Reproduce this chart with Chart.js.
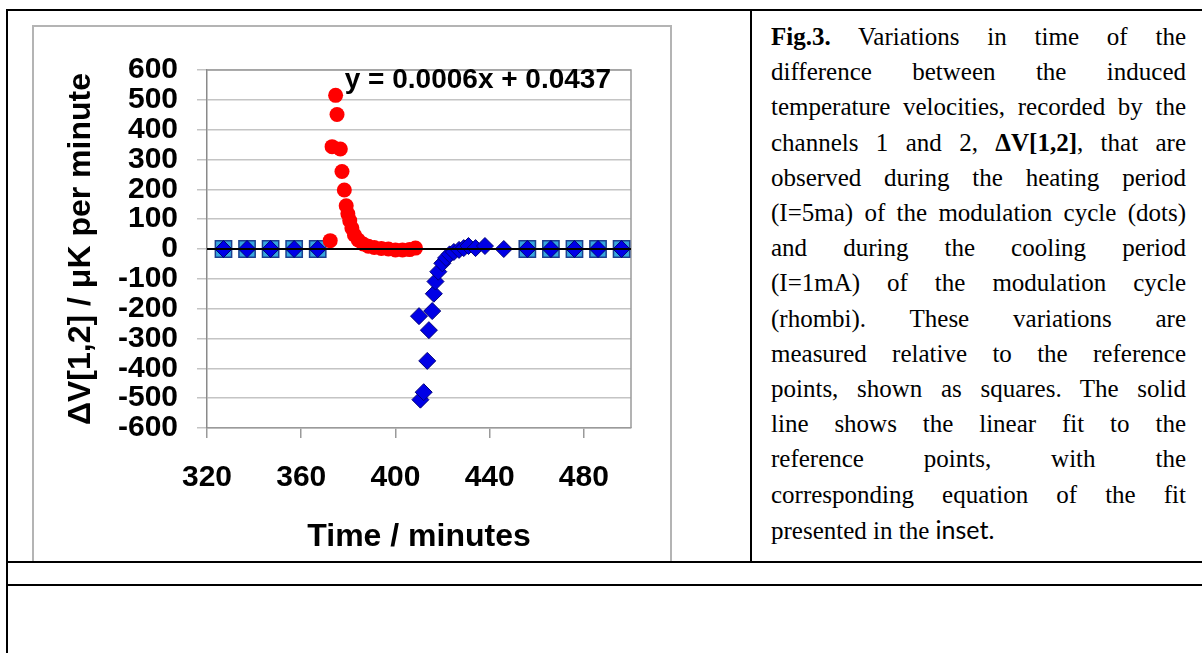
<!DOCTYPE html>
<html>
<head>
<meta charset="utf-8">
<title>Fig.3</title>
<script src="https://cdn.jsdelivr.net/npm/chart.js@4.4.1/dist/chart.umd.min.js"></script>
<style>
  html, body { margin: 0; padding: 0; background: #fff; }
  body { position: relative; width: 1202px; height: 653px; overflow: hidden; }
  .rule { position: absolute; background: #000; }
  #chart-frame {
    position: absolute; left: 32px; top: 25px; width: 640px; height: 537px;
    box-sizing: border-box; border: 2px solid #b4b4b4; border-bottom: none;
  }
  #chart-fig3 { position: absolute; left: 33px; top: 26px; }
  #caption {
    position: absolute; left: 771px; top: 19px; width: 415px;
    font-family: "Liberation Serif", "Times New Roman", serif;
    font-size: 25px; line-height: 35.2px; color: #000;
  }
  #caption .ln { text-align: justify; text-align-last: justify; white-space: nowrap; }
  #caption .ln.last { text-align: left; text-align-last: left; }
  #caption .sans { font-family: Lato, "Open Sans", sans-serif; font-size: 25px; }
</style>
</head>
<body>
<div class="rule" style="left:6px;top:9px;width:1196px;height:2px"></div>
<div class="rule" style="left:6px;top:9px;width:2px;height:644px"></div>
<div class="rule" style="left:750px;top:9px;width:2px;height:553px"></div>
<div id="chart-frame"></div>
<canvas id="chart-fig3" width="638" height="536"></canvas>
<div class="rule" style="left:6px;top:561px;width:1196px;height:2px"></div>
<div class="rule" style="left:6px;top:584px;width:1196px;height:2px"></div>

<div id="caption">
  <div class="ln"><b>Fig.3.</b> Variations in time of the</div>
  <div class="ln">difference between the induced</div>
  <div class="ln">temperature velocities, recorded by the</div>
  <div class="ln">channels 1 and 2, <b>ΔV[1,2]</b>, that are</div>
  <div class="ln">observed during the heating period</div>
  <div class="ln">(I=5ma) of the modulation cycle (dots)</div>
  <div class="ln">and during the cooling period</div>
  <div class="ln">(I=1mA) of the modulation cycle</div>
  <div class="ln">(rhombi). These variations are</div>
  <div class="ln">measured relative to the reference</div>
  <div class="ln">points, shown as squares. The solid</div>
  <div class="ln">line shows the linear fit to the</div>
  <div class="ln">reference points, with the</div>
  <div class="ln">corresponding equation of the fit</div>
  <div class="ln last">presented in the <span class="sans">inset.</span></div>
</div>

<script>
// heating period (dots), minutes / uK per minute
const heatingTimes = [372.3, 373.1, 374.6, 375.2, 376.6, 377.3, 378.3, 379.1, 379.8, 380.6, 381.5,
  382.6, 384.2, 386.3, 388.5, 391, 394, 397, 400, 403, 406, 408.5];
const heatingValues = [28, 343, 515, 451, 335, 260, 198, 145, 118, 95, 70,
  47, 30, 17, 9, 5, 2, 0, -3, -3, -2, 3];

// cooling period (rhombi)
const coolingTimes = [410.6, 410, 412, 413.5, 414.2, 415.6, 416.3, 417, 418.2, 419.9,
  421.5, 423, 424.8, 427, 429, 431, 434, 438, 446];
const coolingValues = [-505, -225, -480, -375, -272, -208, -150, -109, -76, -48,
  -30, -18, -10, -3, 3, 10, 3, 10, 0];

// reference points (squares)
const referenceTimes = [327, 337, 347, 357, 367, 456, 466, 476, 486, 496];
const referenceValues = [0, 0, 0, 0, 0, 0, 0, 0, 0, 0];

// linear fit to the reference points
const fitSlope = 0.0006;
const fitIntercept = 0.0437;
const fitLabel = "y = 0.0006x + 0.0437";
const fitLabelAt = { x: 435, y: 566 };

const xRange = [320, 500];
const xTickValues = [320, 360, 400, 440, 480];
const yRange = [-600, 600];
const yStep = 100;

const xTitle = "Time / minutes";
const yTitle = "ΔV[1,2] / μK per minute";

function toPoints(xs, ys) {
  return xs.map((x, i) => ({ x, y: ys[i] }));
}

function fitPoints() {
  return xRange.map((x) => ({ x, y: fitSlope * x + fitIntercept }));
}

// right + top edge of the plot area (Excel style frame)
const plotFrame = {
  id: "plotFrame",
  beforeDatasetsDraw(chart) {
    const { ctx, chartArea } = chart;
    ctx.save();
    ctx.strokeStyle = "#9a9a9a";
    ctx.lineWidth = 1.5;
    ctx.beginPath();
    ctx.moveTo(chartArea.left, chartArea.top);
    ctx.lineTo(chartArea.right, chartArea.top);
    ctx.lineTo(chartArea.right, chartArea.bottom);
    ctx.stroke();
    ctx.restore();
  },
};

const fitLabelPlugin = {
  id: "fitLabel",
  afterDraw(chart) {
    const { ctx, scales } = chart;
    ctx.save();
    ctx.font = 'bold 28px "Liberation Sans", Arial, sans-serif';
    ctx.fillStyle = "#000";
    ctx.textAlign = "center";
    ctx.textBaseline = "middle";
    ctx.fillText(fitLabel, scales.x.getPixelForValue(fitLabelAt.x), scales.y.getPixelForValue(fitLabelAt.y));
    ctx.restore();
  },
};

function renderChart() {
  const canvas = document.getElementById("chart-fig3");
  if (!canvas) return;

  Chart.defaults.font.family = '"Liberation Sans", Arial, sans-serif';
  Chart.defaults.font.weight = "bold";
  Chart.defaults.color = "#000";

  new Chart(canvas, {
    type: "scatter",
    data: {
      datasets: [
        {
          label: "fit",
          data: fitPoints(),
          showLine: true,
          borderColor: "#000",
          borderWidth: 2,
          pointRadius: 0,
        },
        {
          label: "reference rhombi",
          data: toPoints(referenceTimes, referenceValues),
          pointStyle: "rectRot",
          pointRadius: 8.5,
          pointBackgroundColor: "#0000e6",
          pointBorderColor: "#00007a",
          pointBorderWidth: 1,
        },
        {
          label: "cooling",
          data: toPoints(coolingTimes, coolingValues),
          pointStyle: "rectRot",
          pointRadius: 8.5,
          pointBackgroundColor: "#0000e6",
          pointBorderColor: "#00007a",
          pointBorderWidth: 1,
        },
        {
          label: "heating",
          data: toPoints(heatingTimes, heatingValues),
          pointStyle: "circle",
          pointRadius: 7.5,
          pointBackgroundColor: "#ff0000",
          pointBorderColor: "#ff0000",
          pointBorderWidth: 0,
        },
        {
          label: "reference",
          data: toPoints(referenceTimes, referenceValues),
          pointStyle: "rect",
          pointRadius: 11.5,
          pointBackgroundColor: "#36a6de",
          pointBorderColor: "#1c3f8f",
          pointBorderWidth: 1.5,
        },
      ],
    },
    options: {
      responsive: false,
      animation: false,
      layout: { padding: { top: 44, right: 40, left: 0, bottom: 0 } },
      plugins: {
        legend: { display: false },
        tooltip: { enabled: false },
      },
      scales: {
        x: {
          type: "linear",
          min: xRange[0],
          max: xRange[1],
          afterBuildTicks: (scale) => {
            scale.ticks = xTickValues.map((value) => ({ value }));
          },
          afterFit: (scale) => {
            scale.height = 134;
          },
          grid: { drawOnChartArea: false, tickLength: 10, color: "#9a9a9a", lineWidth: 1.5 },
          border: { color: "#9a9a9a", width: 1.5 },
          ticks: { font: { size: 30, weight: "bold" }, padding: 22, maxRotation: 0, autoSkip: false },
          title: { display: true, text: xTitle, font: { size: 32, weight: "bold" }, padding: { top: 0, bottom: 6 } },
        },
        y: {
          min: yRange[0],
          max: yRange[1],
          ticks: { stepSize: yStep, font: { size: 30, weight: "bold" }, padding: 19, autoSkip: false },
          afterFit: (scale) => {
            scale.width = 174;
          },
          grid: { color: "#c4c4c4", lineWidth: 1.5, tickLength: 10 },
          border: { color: "#8a8a8a", width: 1.5 },
          title: { display: true, text: yTitle, font: { size: 32, weight: "bold" }, padding: { top: 29, bottom: 0 } },
        },
      },
    },
    plugins: [plotFrame, fitLabelPlugin],
  });
}

document.addEventListener("DOMContentLoaded", renderChart);
</script>
</body>
</html>
